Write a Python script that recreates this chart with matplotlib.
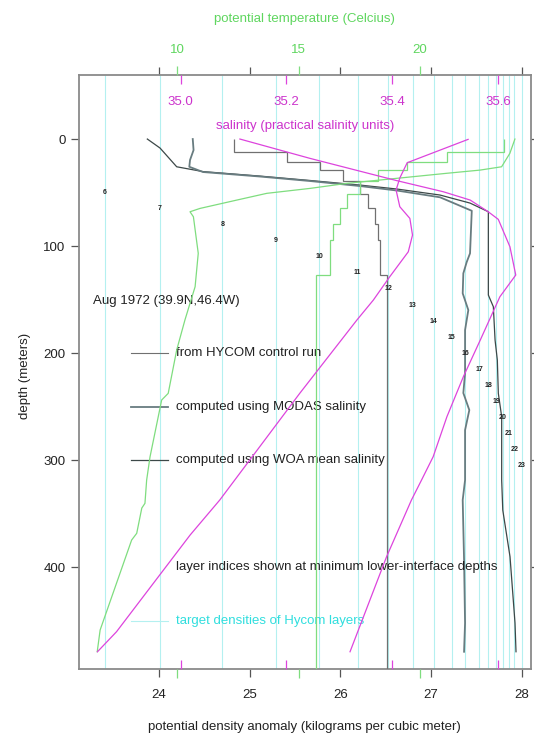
import matplotlib.pyplot as plt

plt.rcParams['font.family'] = ['Liberation Sans', 'DejaVu Sans']

GREEN = "#7fdd7f"
GREEN_TXT = "#5fd65f"
MAGENTA = "#dd44dd"
MAGENTA_TXT = "#cc33cc"
CYAN = "#b4f0f0"
CYAN_TXT = "#30dede"
TXT = "#222222"

# plotting ranges of the shared depth axis and the three x scales
SIG_LIM = (23.114, 28.100)
DEPTH_LIM = (495.2, -59.8)
TEMP_LIM = (5.926, 24.581)
SAL_LIM = (34.8076, 35.6612)

# HYCOM layer targets (layers 6-23) and minimum lower-interface depths
layer_index = list(range(6, 24))
target_sigma = [23.40, 24.01, 24.70, 25.29, 25.77, 26.19, 26.53, 26.80, 27.03,
                27.23, 27.38, 27.53, 27.63, 27.72, 27.79, 27.86, 27.92, 28.00]
label_depth = [50, 65, 80, 95, 110, 125, 140, 155, 170, 185, 200, 215, 230,
               245, 260, 275, 290, 305]

# HYCOM control run, layered profile
hycom_edges = [0, 12.4, 21.0, 29.0, 39.6, 51.1, 64.3, 79.0, 94.6, 127.0, 600]
hycom_sigma = [24.827, 25.409, 25.776, 26.033, 26.217, 26.309, 26.383, 26.420,
               26.438, 26.512]
hycom_temp = [23.48, 21.11, 19.46, 18.29, 17.54, 16.99, 16.71, 16.43, 16.30, 15.72]

# observed temperature profile
obs_temp_z = [0, 13.4, 25.9, 29.0, 32.0, 36.7, 41.4, 46.1, 50.7, 57.0, 64.8, 67.9,
              72.6, 106.7, 137.9, 169.0, 197.0, 237.5, 243.7, 296.7, 318.5, 340.2,
              344.6, 368.2, 374.5, 458.5, 478.8]
obs_temp = [23.93, 23.72, 23.38, 22.49, 21.11, 19.05, 16.99, 15.47, 13.69, 12.45,
            10.93, 10.52, 10.66, 10.86, 10.73, 10.31, 9.97, 9.62, 9.35, 8.87, 8.73,
            8.66, 8.53, 8.32, 8.11, 6.81, 6.69]

# WOA mean salinity
woa_sal_z = [0, 18.0, 38.8, 49.2, 57.0, 67.9, 75.0, 100.6, 127.0, 147.3, 187.7,
             222.0, 259.3, 296.7, 318.5, 337.1, 390.1, 478.8]
woa_sal = [35.112, 35.244, 35.408, 35.496, 35.547, 35.581, 35.600, 35.622, 35.633,
           35.603, 35.566, 35.534, 35.503, 35.477, 35.455, 35.436, 35.389, 35.320]

# MODAS salinity
modas_sal_z = [0.3, 22.1, 36.4, 47.6, 63.2, 74.1, 89.7, 105.3, 128.6, 150.4, 169.0,
               237.5, 337.1, 369.8, 460.1, 478.8]
modas_sal = [35.543, 35.428, 35.414, 35.407, 35.414, 35.433, 35.438, 35.430, 35.395,
             35.364, 35.333, 35.225, 35.074, 35.018, 34.879, 34.843]

# density computed with WOA salinity
woa_sig_z = [0, 8.4, 25.9, 30.4, 34.6, 38.7, 43.0, 46.7, 52.3, 59.8, 67.9, 145.7,
             156.6, 187.7, 206.4, 237.5, 259.3, 318.5, 346.5, 390.1, 452.0, 478.8]
woa_sig = [23.871, 24.011, 24.195, 24.485, 25.114, 25.666, 26.218, 26.626, 27.100,
           27.431, 27.633, 27.633, 27.688, 27.707, 27.732, 27.743, 27.780, 27.780,
           27.792, 27.872, 27.927, 27.938]

# density computed with MODAS salinity
modas_sig_z = [0, 10.3, 19.6, 25.9, 30.8, 35.0, 39.2, 43.9, 48.1, 54.4, 67.0, 106.7,
               114.9, 125.4, 144.1, 159.7, 178.4, 218.5, 237.2, 253.1, 271.8, 318.5,
               337.1, 393.2, 452.0, 478.8]
modas_sig = [24.372, 24.381, 24.342, 24.334, 24.485, 25.114, 25.666, 26.218, 26.626,
             27.100, 27.450, 27.431, 27.394, 27.357, 27.350, 27.412, 27.376, 27.376,
             27.357, 27.423, 27.376, 27.376, 27.350, 27.365, 27.376, 27.365]

fig = plt.figure(figsize=(5.34, 7.39), dpi=100)
ax = fig.add_axes([0.1474, 0.0943, 0.8464, 0.8042])
ax_t = ax.twiny()
ax_s = ax.twiny()

ax.set_xlim(SIG_LIM)
ax.set_ylim(DEPTH_LIM)
ax_t.set_xlim(TEMP_LIM)
ax_s.set_xlim(SAL_LIM)

# target densities
ax.vlines(target_sigma, 0, 1, transform=ax.get_xaxis_transform(),
          color=CYAN, lw=0.8, zorder=1)

ax.stairs(hycom_sigma, hycom_edges, orientation='horizontal', baseline=None,
          color="#707070", lw=0.9, zorder=3)
ax.plot(woa_sig, woa_sig_z, color="#3c4848", lw=0.9, zorder=3)
ax.plot(modas_sig, modas_sig_z, color="#687c80", lw=1.3, zorder=3)

ax_t.stairs(hycom_temp, hycom_edges, orientation='horizontal', baseline=None,
            color=GREEN, lw=0.9)
ax_t.plot(obs_temp, obs_temp_z, color=GREEN, lw=0.9)
ax_s.plot(woa_sal, woa_sal_z, color=MAGENTA, lw=0.9)
ax_s.plot(modas_sal, modas_sal_z, color=MAGENTA, lw=0.9)

for k, s, z in zip(layer_index, target_sigma, label_depth):
    ax.text(s, z, str(k), fontsize=5, weight='bold', ha='center', va='center',
            color=TXT)

for a in (ax_t, ax_s):
    for sp in a.spines.values():
        sp.set_visible(False)
for sp in ax.spines.values():
    sp.set_color("#8a8a8a")
    sp.set_linewidth(1.3)

# density / depth ticks
ax.set_xticks([24, 25, 26, 27, 28])
ax.set_yticks([0, 100, 200, 300, 400])
ax.tick_params(axis='x', direction='out', length=5.8, width=0.9, color="#555555",
               top=True, bottom=True, labeltop=False, labelbottom=True, pad=8.4,
               labelsize=9.5, labelcolor=TXT)
ax.tick_params(axis='y', direction='out', length=5.8, width=0.9, color="#555555",
               left=True, right=True, labelright=False, pad=3.8, labelsize=9.5,
               labelcolor=TXT)

# temperature ticks
ax_t.set_xticks([10, 15, 20])
ax_t.tick_params(axis='x', direction='out', length=6.5, width=0.9, color=GREEN,
                 top=True, bottom=True, labeltop=True, labelbottom=False, pad=7,
                 labelsize=9.5, labelcolor=GREEN_TXT)

# salinity ticks, labelled inside the frame
sal_ticks = [35.0, 35.2, 35.4, 35.6]
ax_s.set_xticks(sal_ticks)
ax_s.tick_params(axis='x', direction='in', length=6.5, width=0.9, color=MAGENTA,
                 top=True, bottom=True, labeltop=False, labelbottom=False)
for s in sal_ticks:
    ax_s.text(s, 0.9554, f"{s:.1f}", transform=ax_s.get_xaxis_transform(),
              ha='center', va='center', fontsize=9.5, color=MAGENTA_TXT)

ax.text(0.5, 0.9142, "salinity (practical salinity units)", transform=ax.transAxes,
        ha='center', va='center', fontsize=9.5, color=MAGENTA_TXT)
fig.text(304.5 / 534, 1 - 18.7 / 739, "potential temperature (Celcius)",
         ha='center', va='center', fontsize=9.5, color=GREEN_TXT)
fig.text(304.7 / 534, 1 - 727 / 739,
         "potential density anomaly (kilograms per cubic meter)",
         ha='center', va='center', fontsize=9.5, color=TXT)
fig.text(25 / 534, 1 - 376 / 739, "depth (meters)", rotation=90,
         ha='center', va='center', fontsize=9.5, color=TXT)

# annotation block
ax.text(0.031, 0.6197, "Aug 1972 (39.9N,46.4W)", transform=ax.transAxes,
        ha='left', va='center', fontsize=9.5, color=TXT)
legend_rows = [
    (0.5317, "from HYCOM control run", "#707070", 0.8, TXT),
    (0.4414, "computed using MODAS salinity", "#687c80", 1.3, TXT),
    (0.3517, "computed using WOA mean salinity", "#3c4848", 0.9, TXT),
    (0.0818, "target densities of Hycom layers", CYAN, 0.8, CYAN_TXT),
]
for y, label, col, lw, tcol in legend_rows:
    ax.plot([0.1157, 0.1969], [y, y], transform=ax.transAxes, color=col, lw=lw)
    ax.text(0.2153, y, label, transform=ax.transAxes, ha='left', va='center',
            fontsize=9.5, color=tcol)
ax.text(0.2153, 0.1716, "layer indices shown at minimum lower-interface depths",
        transform=ax.transAxes, ha='left', va='center', fontsize=9.5, color=TXT)

fig.savefig("out.png", dpi=100)
